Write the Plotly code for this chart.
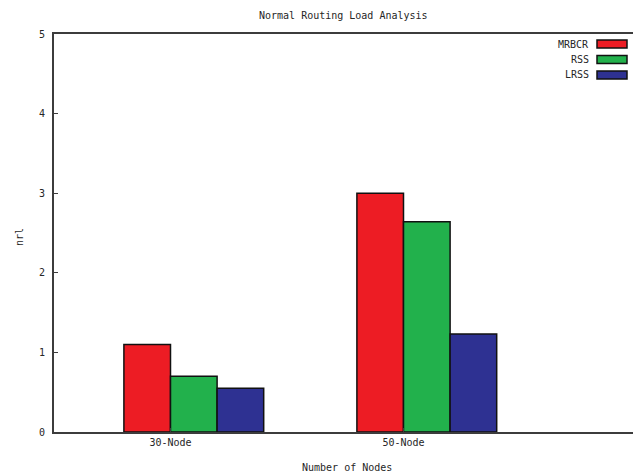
import plotly.graph_objects as go

# Data
categories = ["30-Node", "50-Node"]
series_names = ["MRBCR", "RSS", "LRSS"]
mrbcr = [1.1, 3.0]
rss = [0.7, 2.64]
lrss = [0.55, 1.23]
series_values = [mrbcr, rss, lrss]
colors = ["#ED1C24", "#22B14C", "#2E3192"]
y_ticks = [0, 1, 2, 3, 4, 5]

FONT = dict(family="DejaVu Sans Mono", size=10, color="#262626")
W, H = 633, 473
ML, MT, MB = 54, 34, 41

fig = go.Figure()
positions = list(range(len(categories)))
bar_w = 0.2
for i, (name, vals, col) in enumerate(zip(series_names, series_values, colors)):
    fig.add_trace(go.Bar(
        x=positions, y=vals, name=name,
        width=bar_w, offset=-bar_w + bar_w * i,
        marker=dict(color=col, line=dict(color="#111111", width=1.5)),
        showlegend=False,
    ))

fig.update_layout(
    width=W, height=H,
    margin=dict(l=ML, r=0, t=MT, b=MB),
    paper_bgcolor="white", plot_bgcolor="white",
    barmode="overlay",
    font=FONT,
    xaxis=dict(
        range=[-0.5, 1.985], tickmode="array", tickvals=positions, ticktext=categories,
        showgrid=False, zeroline=False, showline=True, linecolor="#3c3c3c", linewidth=2,
        mirror=True, ticks="inside", ticklen=4, tickcolor="#3c3c3c", tickfont=FONT,
    ),
    yaxis=dict(
        range=[0, 5], tickvals=y_ticks, showgrid=False, zeroline=False,
        showline=True, linecolor="#3c3c3c", linewidth=2,
        ticks="inside", ticklen=4, tickcolor="#3c3c3c", tickfont=FONT,
        ticklabelstandoff=5,
    ),
)

# Titles
fig.add_annotation(text="Normal Routing Load Analysis", xref="paper", yref="paper",
                   x=(343 - ML) / (W - ML), y=1, yshift=19, showarrow=False,
                   font=FONT, xanchor="center", yanchor="middle")
fig.add_annotation(text="Number of Nodes", xref="paper", yref="paper",
                   x=(347 - ML) / (W - ML), y=0, yshift=-35, showarrow=False,
                   font=FONT, xanchor="center", yanchor="middle")
fig.add_annotation(text="nrl", xref="paper", yref="paper", x=0, xshift=-34,
                   y=0.49, showarrow=False, font=FONT, textangle=-90,
                   xanchor="center", yanchor="middle")

# Key in the upper right: label then colour swatch
plot_w = W - ML
plot_h = H - MT - MB
for i, (name, col) in enumerate(zip(series_names, colors)):
    yc = 44 + 15.5 * i
    yp = 1 - (yc - MT) / plot_h
    fig.add_annotation(text=name, xref="paper", yref="paper",
                       x=(591 - ML) / plot_w, y=yp, showarrow=False,
                       font=FONT, xanchor="right", yanchor="middle")
    fig.add_shape(type="rect", xref="paper", yref="paper",
                  x0=(597 - ML) / plot_w, x1=(627 - ML) / plot_w,
                  y0=yp - 4 / plot_h, y1=yp + 4 / plot_h,
                  fillcolor=col, line=dict(color="#111111", width=1.5))

fig.write_html("out.html")
